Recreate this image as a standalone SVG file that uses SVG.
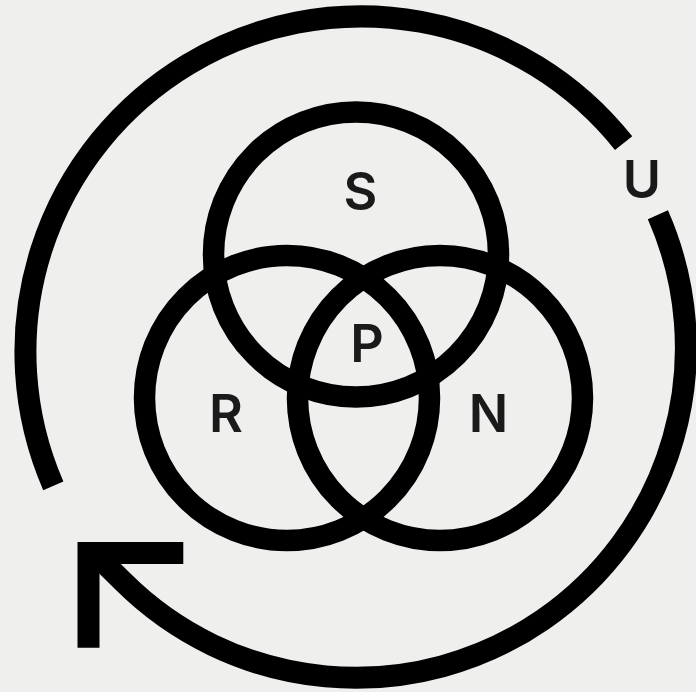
<svg xmlns="http://www.w3.org/2000/svg" width="696" height="692" viewBox="0 0 696 692">
<style>
.ring{fill:none;stroke:#000;stroke-width:21.5}
.cyc{fill:none;stroke:#000;stroke-width:22;stroke-linecap:butt;stroke-linejoin:miter}
.lbl{font-family:Inter,"Liberation Sans",sans-serif;font-weight:600;font-size:52px;fill:#1a1a1a;text-anchor:middle}
</style>
<rect width="696" height="692" fill="#eff0ee"/>
<g id="connectors">
<path class="cyc" d="M53.3,485.8 A335.5,335.5 0 0 1 623.6,143.2"/>
<path class="cyc" d="M657.9,214.8 A330,330 0 0 1 122.7,581.3 L92,551"/>
<path class="cyc" d="M183.3,553 H88.5 V647.7"/>
</g>
<g id="S"><circle class="ring" cx="356" cy="254.5" r="142.5"/><text class="lbl" x="360.5" y="209.5">S</text></g>
<g id="R"><circle class="ring" cx="287" cy="398" r="142.5"/><text class="lbl" x="226" y="432">R</text></g>
<g id="N"><circle class="ring" cx="440" cy="398" r="142.5"/><text class="lbl" x="488.5" y="432">N</text></g>
<g id="P"><text class="lbl" x="367" y="361.5">P</text></g>
<g id="U"><text class="lbl" x="642" y="198">U</text></g>
</svg>
